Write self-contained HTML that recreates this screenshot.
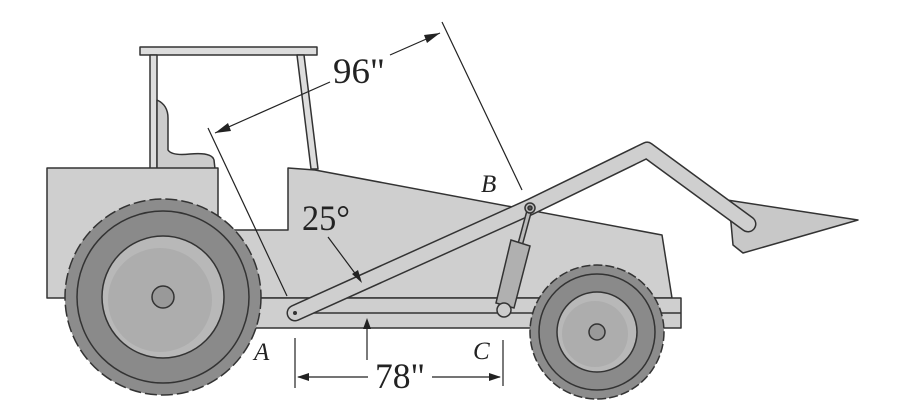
<!DOCTYPE html>
<html><head><style>
html,body{margin:0;padding:0;background:#fff;}
svg{display:block;}
text{font-family:"Liberation Serif",serif;fill:#222;}
</style></head><body>
<svg width="903" height="417" viewBox="0 0 903 417" xmlns="http://www.w3.org/2000/svg">
<g stroke="#333" stroke-width="1.5" stroke-linejoin="round">
<rect x="140" y="47" width="177" height="8" fill="#ddd"/>
<rect x="150" y="55" width="7" height="114" fill="#ddd"/>
<polygon points="297,55 304,55 318,169 311,169" fill="#ddd"/>
<path d="M157,100 Q168,105 168,118 L168,150 Q172,156 190,154 Q212,152 214,160 L215,169 L157,169 Z" fill="#ccc"/>
<rect x="47" y="168" width="171" height="130" fill="#cfcfcf"/>
<polygon points="218,230 288,230 288,168 315,170 662,235 672,298 250,298 218,298" fill="#cfcfcf"/>
<rect x="250" y="298" width="431" height="30" fill="#cfcfcf"/>
<line x1="300" y1="313" x2="681" y2="313"/>
</g>
<g stroke="#333" stroke-width="1.5">
<circle cx="163" cy="297" r="98" fill="#8c8c8c" stroke-dasharray="12 4"/>
<circle cx="163" cy="297" r="86" fill="#8a8a8a"/>
<circle cx="163" cy="297" r="61" fill="#b8b8b8"/>
<circle cx="160" cy="300" r="52" fill="#adadad" stroke="none"/>
<circle cx="163" cy="297" r="11" fill="#999"/>
</g>
<g stroke="#333" stroke-width="1.5">
<circle cx="597" cy="332" r="67" fill="#8c8c8c" stroke-dasharray="9 3"/>
<circle cx="597" cy="332" r="58" fill="#8a8a8a"/>
<circle cx="597" cy="332" r="40" fill="#b8b8b8"/>
<circle cx="595" cy="334" r="33" fill="#adadad" stroke="none"/>
<circle cx="597" cy="332" r="8" fill="#999"/>
</g>
<polygon points="727,200 858,220 743,253 733,245 731,223" fill="#c8c8c8" stroke="#333" stroke-width="1.5" stroke-linejoin="round"/>
<polyline points="295,313 530,207 647,150 748,224" fill="none" stroke="#333" stroke-width="17" stroke-linecap="round" stroke-linejoin="round"/>
<polyline points="295,313 530,207 647,150 748,224" fill="none" stroke="#cfcfcf" stroke-width="14" stroke-linecap="round" stroke-linejoin="round"/>
<circle cx="295" cy="313" r="2" fill="#333"/>
<g stroke="#333" stroke-width="1.5">
<line x1="530" y1="208" x2="520" y2="245" stroke-width="6"/>
<line x1="530" y1="208" x2="520" y2="245" stroke="#bbb" stroke-width="3"/>
<polygon points="511,240 530,246 514,308 496,303" fill="#b0b0b0"/>
<circle cx="504" cy="310" r="7" fill="#ccc"/>
<circle cx="530" cy="208" r="5" fill="#bbb"/>
<circle cx="530" cy="208" r="2" fill="#555"/>
</g>
<g stroke="#222" stroke-width="1.2" fill="none">
<line x1="208" y1="128" x2="287" y2="296"/>
<line x1="442" y1="22" x2="522" y2="190"/>
<line x1="215" y1="133" x2="330" y2="82"/>
<line x1="390" y1="55" x2="440" y2="33"/>
<line x1="328" y1="237" x2="360" y2="280"/>
<line x1="367" y1="360" x2="367" y2="322"/>
<line x1="295" y1="338" x2="295" y2="388"/>
<line x1="503" y1="340" x2="503" y2="386"/>
<line x1="298" y1="377" x2="368" y2="377"/>
<line x1="432" y1="377" x2="500" y2="377"/>
</g>
<g fill="#222">
<polygon points="215,133 228,123 231,131"/>
<polygon points="440,33 427,43 424,35"/>
<polygon points="362,283 352,274 358,270"/>
<polygon points="367,318 363,329 371,329"/>
<polygon points="297,377 309,373 309,381"/>
<polygon points="501,377 489,373 489,381"/>
</g>
<text x="333" y="83" font-size="36" textLength="52" lengthAdjust="spacingAndGlyphs">96"</text>
<text x="302" y="230" font-size="36" textLength="48" lengthAdjust="spacingAndGlyphs">25°</text>
<text x="375" y="388" font-size="36" textLength="50" lengthAdjust="spacingAndGlyphs">78"</text>
<text x="254" y="360" font-size="25" font-style="italic">A</text>
<text x="481" y="192" font-size="25" font-style="italic">B</text>
<text x="473" y="359" font-size="25" font-style="italic">C</text>
</svg>
</body></html>
